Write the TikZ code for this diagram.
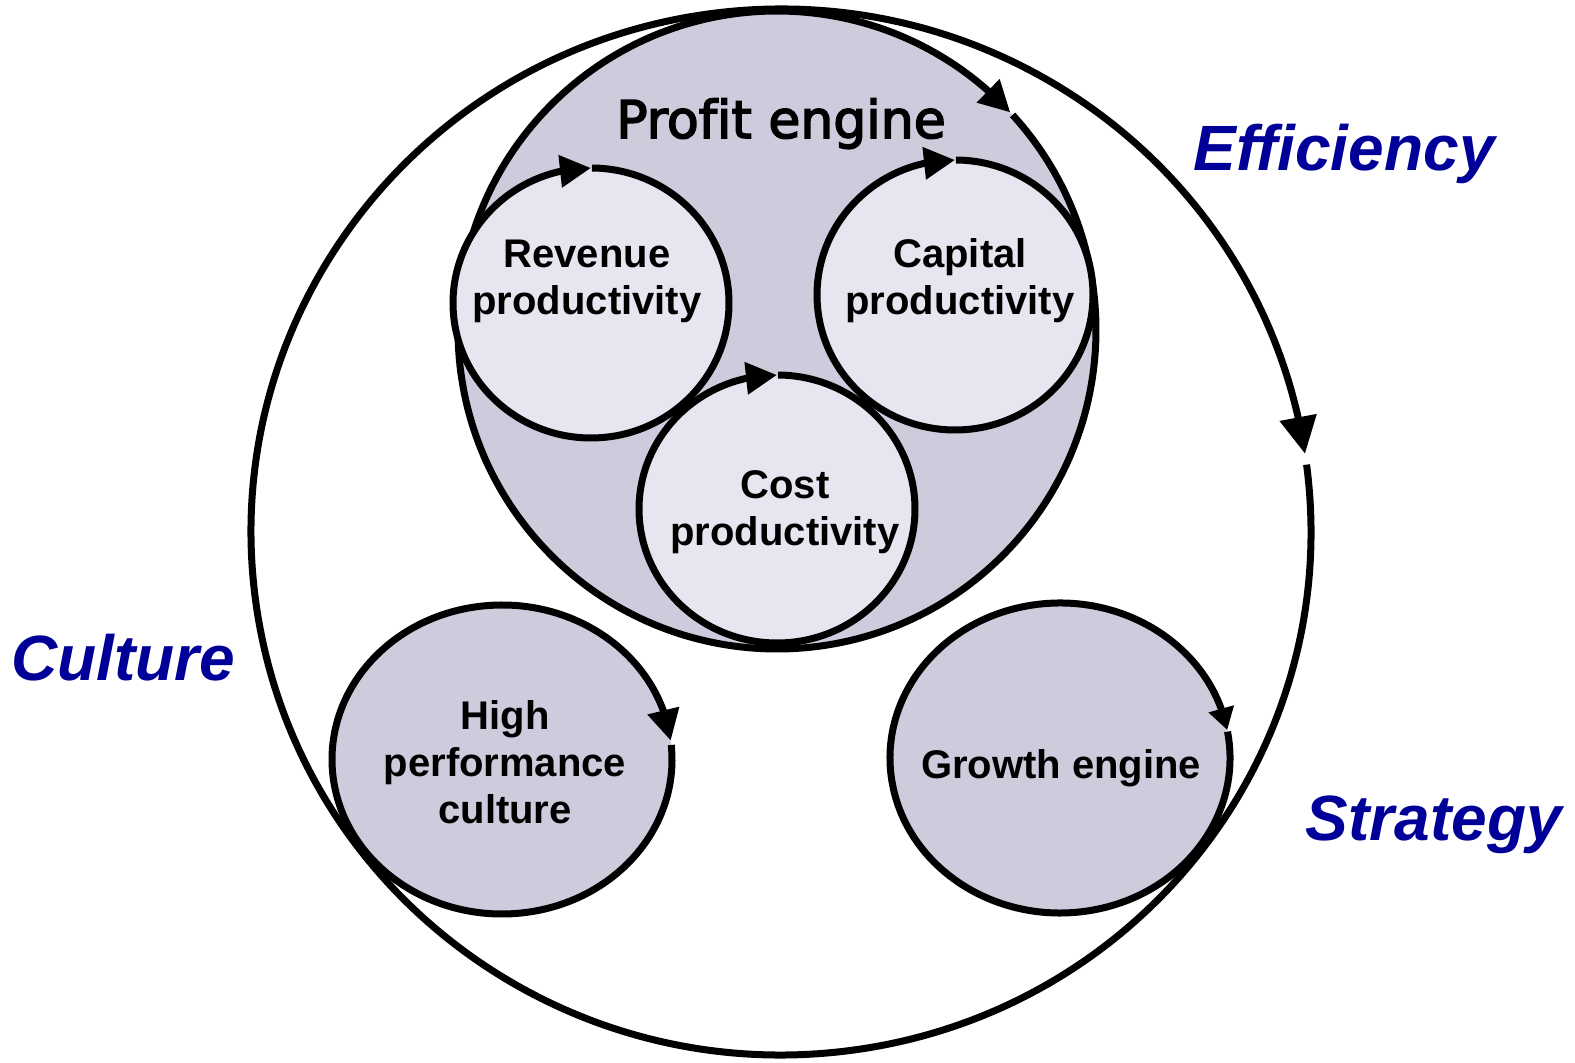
\documentclass[tikz,border=0pt]{standalone}
\usepackage{fontspec}
\setmainfont{Liberation Sans}
\newfontfamily\verdfont[Ligatures=NoCommon]{DejaVu Sans}
\newcommand{\heavytext}[1]{\special{pdf:literal direct 2 Tr 1.6 w}#1\special{pdf:literal direct 0 Tr}}
\usetikzlibrary{arrows.meta,bending,shapes.geometric,calc}
\definecolor{engine}{RGB}{204,204,221}
\definecolor{lever}{RGB}{230,230,240}
\definecolor{dblue}{RGB}{0,0,153}
\tikzset{
  disc/.style={ellipse,inner sep=0pt,outer sep=0pt,draw=none},
  ring/.style={line width=7pt,draw=black},
  bigtip/.style={-{Triangle[length=37pt,width=36pt,flex]}},
  midtip/.style={-{Triangle[length=31pt,width=31pt,flex]}},
  smalltip/.style={-{Triangle[length=22pt,width=25pt,flex]}},
  lbl/.style={font=\bfseries\fontsize{40}{47}\selectfont,align=center,text=black},
  theme/.style={font=\bfseries\itshape\fontsize{64}{70}\selectfont,text=dblue,anchor=base}
}
\begin{document}
\begin{tikzpicture}[x=1pt,y=1pt]
\useasboundingbox (0,0) rectangle (1575,1063);
% outer cycle
\node[disc,minimum width=1060pt,minimum height=1046pt] (outer) at (781,531) {};
\draw[ring,bigtip] ($(outer.center)+(7.4:530 and 523)$) arc[start angle=7.4,end angle=-351.4,x radius=530,y radius=523];
% profit engine
\node[disc,fill=engine,minimum width=638pt,minimum height=638pt] (profit) at (777,733) {};
\draw[ring,midtip] ($(profit.center)+(42.4:319 and 319)$) arc[start angle=42.4,end angle=-317,x radius=319,y radius=319];
\node[font=\verdfont\fontsize{52}{60}\selectfont,anchor=base] (profittxt) at (781,925) {\heavytext{Profit engine}};
% levers
\node[disc,fill=lever,minimum width=276pt,minimum height=270pt] (rev) at (591,760) {};
\draw[ring,midtip] ($(rev.center)+(89.6:138 and 135)$) arc[start angle=89.6,end angle=-270,x radius=138,y radius=135];
\node[disc,fill=lever,minimum width=276pt,minimum height=270pt] (cap) at (955,768) {};
\draw[ring,midtip] ($(cap.center)+(89.6:138 and 135)$) arc[start angle=89.6,end angle=-270,x radius=138,y radius=135];
\node[disc,fill=lever,minimum width=276pt,minimum height=268pt] (cost) at (777,554) {};
\draw[ring,midtip] ($(cost.center)+(89.6:138 and 134)$) arc[start angle=89.6,end angle=-270,x radius=138,y radius=134];
\node[lbl] (revtxt) at (587,782) {Revenue\\productivity};
\node[lbl] (captxt) at (960,782) {Capital\\productivity};
\node[lbl] (costtxt) at (785,551) {Cost\\productivity};
% culture and growth
\node[disc,fill=engine,minimum width=340pt,minimum height=309pt] (culture) at (502,303.5) {};
\draw[ring,midtip] ($(culture.center)+(5.4:170 and 154.5)$) arc[start angle=5.4,end angle=-353,x radius=170,y radius=154.5];
\node[lbl] (culturetxt) at (505,300.5) {High\\performance\\culture};
\node[disc,fill=engine,minimum width=340pt,minimum height=310pt] (growth) at (1060,305) {};
\draw[ring,smalltip] ($(growth.center)+(9.8:170 and 155)$) arc[start angle=9.8,end angle=-349.6,x radius=170,y radius=155];
\node[lbl] (growthtxt) at (1061,295) {Growth engine};
% themes
\node[theme] (eff) at (1344,892) {Efficiency};
\node[theme] (cul) at (123,382) {Culture};
\node[theme] (str) at (1434,222) {Strategy};
\end{tikzpicture}
\end{document}
